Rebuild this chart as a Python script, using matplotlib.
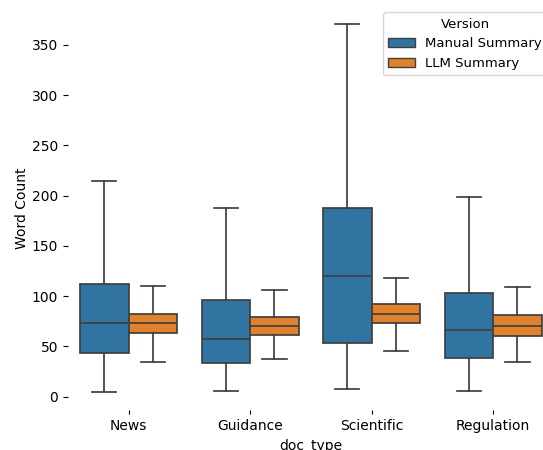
import matplotlib
matplotlib.use("Agg")
import matplotlib.pyplot as plt
from matplotlib.patches import Patch

doc_types = ["News", "Guidance", "Scientific", "Regulation"]
versions = ["Manual Summary", "LLM Summary"]
colors = ["#3274a1", "#e1812c"]

# five-number summaries: low whisker, Q1, median, Q3, high whisker
manual_low = [5, 6, 8, 6]
manual_q1 = [43, 34, 53, 39]
manual_med = [73, 57, 120, 66]
manual_q3 = [112, 96, 188, 103]
manual_high = [215, 188, 371, 199]

llm_low = [35, 38, 45, 35]
llm_q1 = [63, 61, 73, 60]
llm_med = [73, 70, 82, 70]
llm_q3 = [82, 79, 92, 81]
llm_high = [110, 106, 118, 109]

series = [
    (manual_low, manual_q1, manual_med, manual_q3, manual_high),
    (llm_low, llm_q1, llm_med, llm_q3, llm_high),
]

fig = plt.figure(figsize=(5.43, 4.5), dpi=100)
ax = fig.add_axes([0.125, 0.088, 0.895, 0.899])

line_color = "#3f3f3f"
box_w = 0.4
offsets = [-0.2, 0.2]

for (low, q1, med, q3, high), color, off in zip(series, colors, offsets):
    stats = [
        dict(whislo=lo, q1=a, med=m, q3=b, whishi=hi, fliers=[])
        for lo, a, m, b, hi in zip(low, q1, med, q3, high)
    ]
    positions = [i + off for i in range(len(doc_types))]
    ax.bxp(
        stats,
        positions=positions,
        widths=box_w,
        patch_artist=True,
        showfliers=False,
        manage_ticks=False,
        boxprops=dict(facecolor=color, edgecolor=line_color, linewidth=1.25),
        medianprops=dict(color=line_color, linewidth=1.25),
        whiskerprops=dict(color=line_color, linewidth=1.25),
        capprops=dict(color=line_color, linewidth=1.25),
        capwidths=box_w / 2,
    )

ax.set_xlim(-0.5, len(doc_types) - 0.5)
ax.set_ylim(-13.6, 388.8)
ax.set_xticks(range(len(doc_types)))
ax.set_xticklabels(doc_types)
ax.set_yticks([0, 50, 100, 150, 200, 250, 300, 350])
ax.tick_params(axis="x", length=3)
ax.set_xlabel("doc_type")
ax.set_ylabel("Word Count", labelpad=2)
for s in ax.spines.values():
    s.set_visible(False)

handles = [Patch(facecolor=c, edgecolor=line_color, label=v) for c, v in zip(colors, versions)]
ax.legend(handles=handles, title="Version", loc="upper right",
          fontsize=9.5, title_fontsize=9.5)

fig.savefig("out.png", dpi=100)
